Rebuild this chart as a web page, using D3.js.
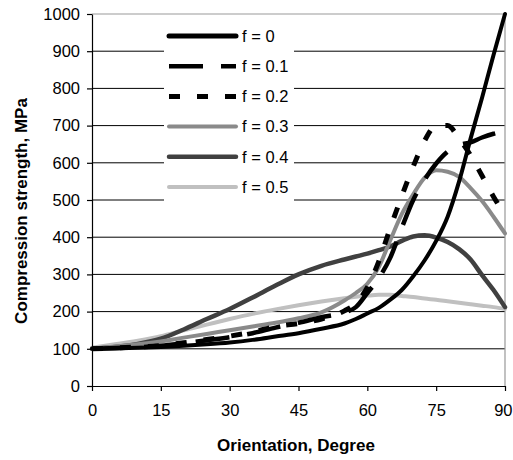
<!DOCTYPE html>
<html>
<head>
<meta charset="utf-8">
<script src="https://cdn.jsdelivr.net/npm/d3@7"></script>
<style>
  html, body { margin: 0; padding: 0; background: #fff; }
  svg { display: block; font-family: "Liberation Sans", Arial, sans-serif; }
</style>
</head>
<body>
<svg id="chart" width="513" height="460"></svg>
<script>
// ---- data ----
const angles = [0,5,10,15,20,25,30,35,40,45,50,55,57.5,60,62.5,65,67.5,70,72.5,75,77.5,80,82.5,85,87.5,90];
const f0  = [100,101,103,105,108,112,117,124,133,142,154,168,180,195,210,232,258,295,338,390,455,550,665,775,890,1000];
const f01 = [100,102,104,108,115,123,131,142,157,170,185,198,212,250,290,345,425,500,555,598,630,648,655,668,678,685];
const f02 = [100,102,105,109,116,125,134,145,160,168,180,202,222,265,335,425,510,590,660,700,700,665,620,565,509,460];
const f03 = [100,106,112,120,130,140,150,160,170,182,198,230,250,275,320,392,462,515,560,580,576,562,532,497,455,410];
const f04 = [100,105,113,127,152,180,207,238,270,300,323,340,348,356,365,375,390,402,405,399,387,368,340,298,258,212];
const f05 = [103,112,122,134,150,165,180,194,206,217,227,236,240,243,245,245,242,239,235,232,228,224,220,216,212,207];
const seriesNames = ["f = 0","f = 0.1","f = 0.2","f = 0.3","f = 0.4","f = 0.5"];
const seriesValues = [f0, f01, f02, f03, f04, f05];
const xTicks = [0,15,30,45,60,75,90];
const yTicks = [0,100,200,300,400,500,600,700,800,900,1000];

// ---- styles ----
const styles = [
  {color:"#000", width:4,   dash:null},
  {color:"#000", width:4.5, dash:"34,18"},
  {color:"#000", width:5,   dash:"11,17"},
  {color:"#8a8a8a", width:4, dash:null},
  {color:"#404040", width:4.5, dash:null},
  {color:"#c0c0c0", width:4, dash:null}
];

const svg = d3.select("#chart");
const x = d3.scaleLinear().domain([0, 90]).range([92, 505]);
const y = d3.scaleLinear().domain([0, 1000]).range([386, 14]);

// gridlines
svg.append("g").selectAll("line").data(yTicks.filter(d => d > 0 && d < 1000)).join("line")
  .attr("x1", x(0)).attr("x2", x(90))
  .attr("y1", d => y(d)).attr("y2", d => y(d))
  .attr("stroke", "#000").attr("stroke-width", 1);

// plot border (top/right)
svg.append("path")
  .attr("d", `M${x(0)},${y(1000)}H${x(90)}V${y(0)}`)
  .attr("fill", "none").attr("stroke", "#999").attr("stroke-width", 1.2);

// lines
const line = d3.line().x(d => x(d[0])).y(d => y(d[1])).curve(d3.curveMonotoneX);
const gLines = svg.append("g");
for (let i = seriesValues.length - 1; i >= 0; i--) {
  const pts = angles.map((a, k) => [a, seriesValues[i][k]]);
  const s = styles[i];
  gLines.append("path").datum(pts)
    .attr("d", line)
    .attr("fill", "none")
    .attr("stroke", s.color)
    .attr("stroke-width", s.width)
    .attr("stroke-linejoin", "round")
    .attr("stroke-linecap", s.dash ? "butt" : "round")
    .attr("stroke-dasharray", s.dash);
}

// axes
const xAxis = d3.axisBottom(x).tickValues(xTicks).tickSize(5).tickSizeOuter(0).tickPadding(13).tickFormat(d3.format("d"));
const yAxis = d3.axisLeft(y).tickValues(yTicks).tickSize(5).tickSizeOuter(0).tickPadding(7).tickFormat(d3.format("d"));
const gx = svg.append("g").attr("transform", `translate(0,${y(0)})`).call(xAxis);
const gy = svg.append("g").attr("transform", `translate(${x(0)},0)`).call(yAxis);
[gx, gy].forEach(g => {
  g.selectAll("path,line").attr("stroke", "#000").attr("stroke-width", 1.2);
  g.selectAll("text").attr("fill", "#000").style("font-size", "16.5px")
    .style("font-family", "'Liberation Sans', Arial, sans-serif");
});
// keep the last x label inside the picture
gx.selectAll(".tick").filter(d => d === 90).select("text")
  .attr("text-anchor", "end").attr("x", 512 - x(90));

// axis titles
svg.append("text")
  .attr("x", 296).attr("y", 451)
  .attr("text-anchor", "middle")
  .style("font-size", "17px").style("font-weight", "bold")
  .text("Orientation, Degree");
svg.append("text")
  .attr("transform", "translate(27,211) rotate(-90)")
  .attr("text-anchor", "middle")
  .style("font-size", "17px").style("font-weight", "bold")
  .text("Compression strength, MPa");

// legend
const lg = svg.append("g");
lg.append("rect").attr("x", 164).attr("y", 20).attr("width", 130).attr("height", 185).attr("fill", "#fff");
seriesNames.forEach((name, i) => {
  const yy = 36 + i * 30.2;
  const s = styles[i];
  lg.append("line")
    .attr("x1", 169).attr("x2", 236).attr("y1", yy).attr("y2", yy)
    .attr("stroke", s.color)
    .attr("stroke-width", i === 0 ? 5 : s.width)
    .attr("stroke-linecap", s.dash ? "butt" : "round")
    .attr("stroke-dasharray", s.dash);
  lg.append("text")
    .attr("x", 242).attr("y", yy).attr("dy", "0.35em")
    .style("font-size", "16.5px")
    .text(name);
});
</script>
</body>
</html>
